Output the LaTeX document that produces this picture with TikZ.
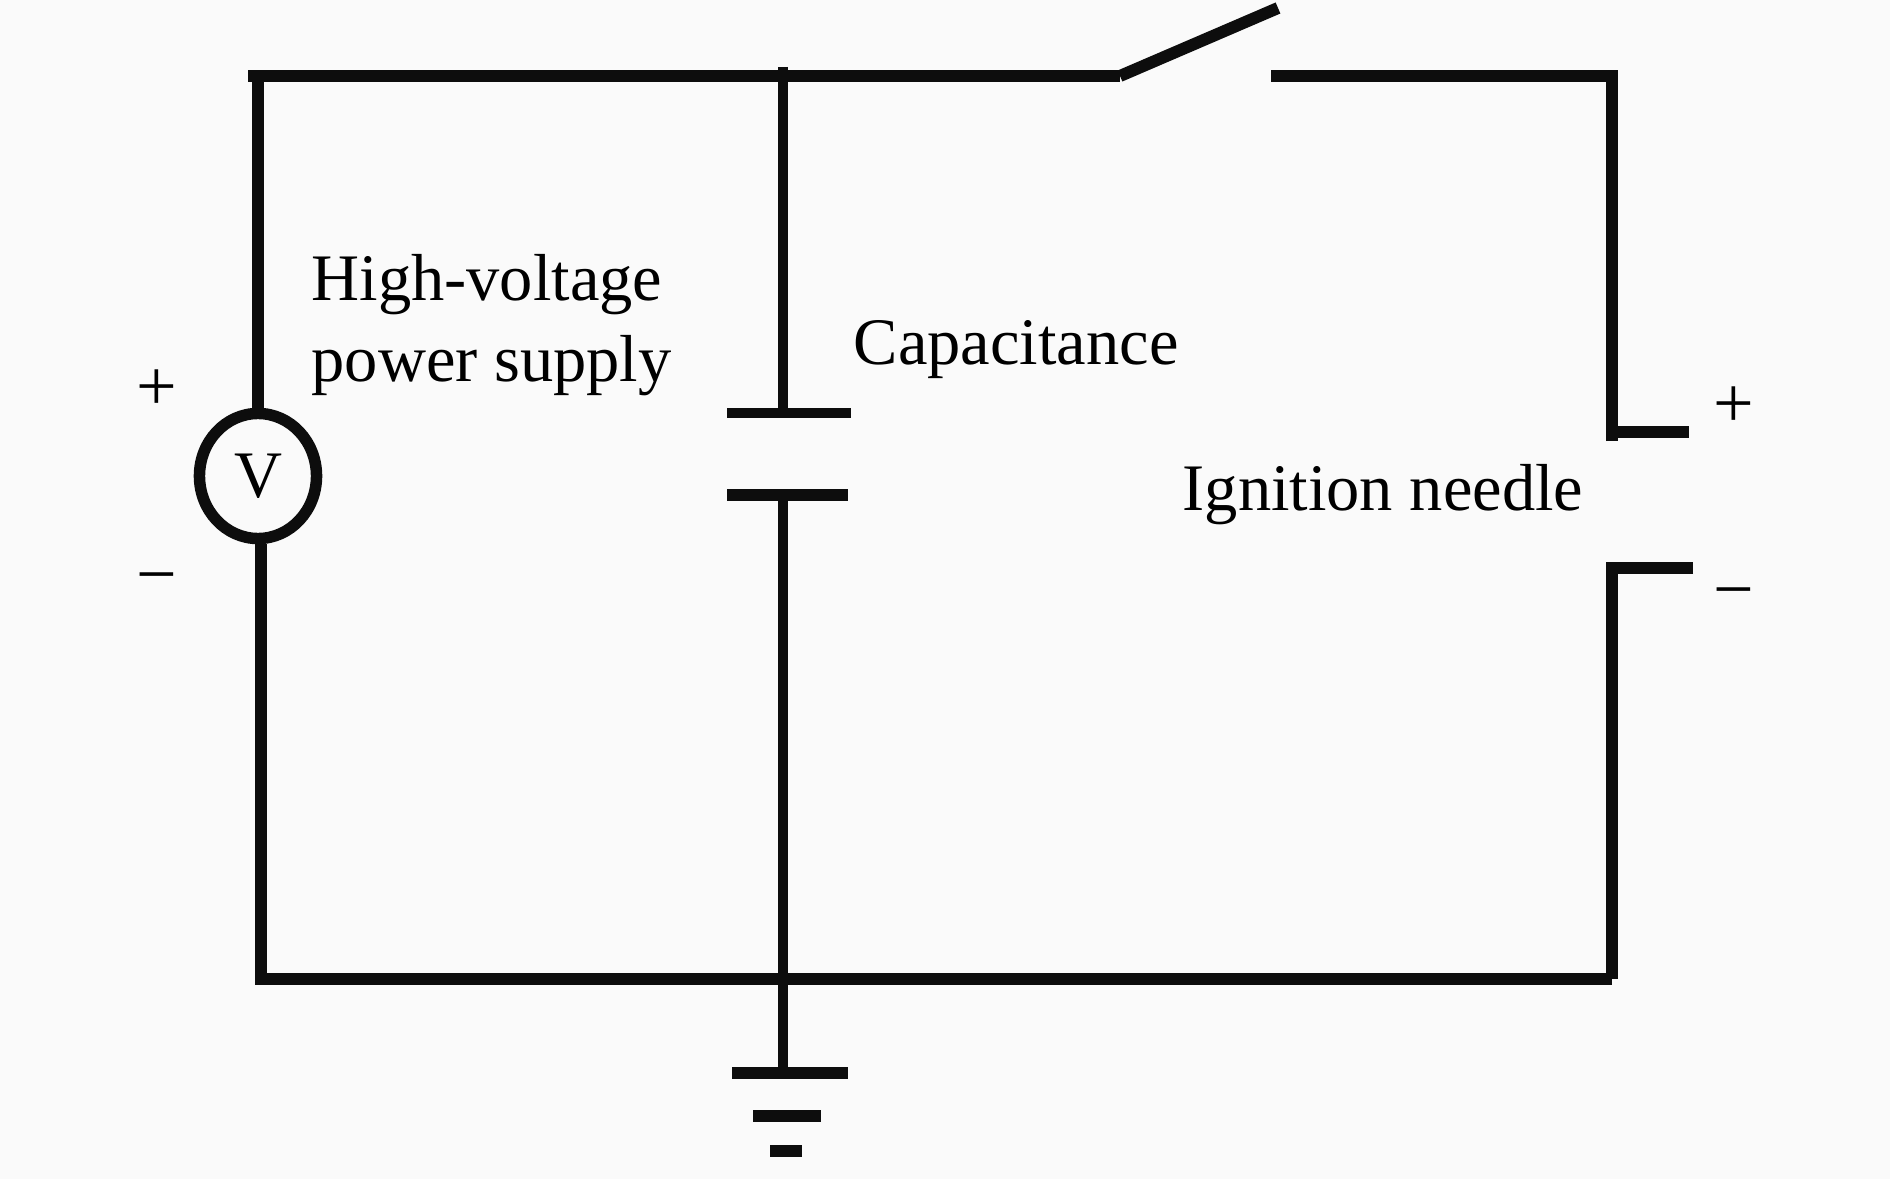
\documentclass[tikz,border=0pt]{standalone}
\usepackage{fontspec}
\setmainfont{Liberation Serif}
\usetikzlibrary{shapes.geometric}
\definecolor{paper}{rgb}{0.98, 0.98, 0.98}
\tikzstyle{wire} = [line width=1.2mm, black!95]
\tikzstyle{thinwire} = [line width=1.05mm, black!95]
\tikzstyle{labelstyle} = [inner sep=0pt, anchor=base west, align=left,
font=\fontsize{18.9}{22.8}\selectfont]
\tikzstyle{signstyle} = [inner sep=0pt, font=\fontsize{20.5}{22.8}\selectfont]
\tikzstyle{sourcestyle} = [ellipse,
minimum width=1.17cm,
minimum height=1.25cm,
inner sep=0pt,
draw=black!95,
line width=1.15mm,
fill=paper,
font=\fontsize{18.9}{22.8}\selectfont]

\begin{document}
\begin{tikzpicture}[x=0.01cm, y=-0.01cm]
\fill [paper, use as bounding box] (0,0) rectangle (1890,1179);

\node (source) [sourcestyle] at (258,476) {V};
\coordinate (topleft) at (248,76);
\coordinate (botleft) at (261,979);
\coordinate (topjoint) at (783,76);
\coordinate (botjoint) at (783,979);
\coordinate (swleft) at (1120,76);
\coordinate (swtip) at (1278,8);
\coordinate (swright) at (1271,76);
\coordinate (topright) at (1612,76);
\coordinate (botright) at (1612,979);
\coordinate (needleup) at (1612,432);
\coordinate (needleupend) at (1689,432);
\coordinate (needledown) at (1612,568);
\coordinate (needledownend) at (1693,568);

% capacitor and ground plates
\coordinate (capa) at (727,413);
\coordinate (capb) at (851,413);
\coordinate (capc) at (727,495);
\coordinate (capd) at (848,495);
\coordinate (captop) at (783,413);
\coordinate (capbot) at (783,495);
\coordinate (gnda) at (732,1073);
\coordinate (gndb) at (848,1073);
\coordinate (gndc) at (753,1116);
\coordinate (gndd) at (821,1116);
\coordinate (gnde) at (770,1151);
\coordinate (gndf) at (802,1151);
\coordinate (gndtop) at (783,1073);

\draw [wire] (source.north) -- (source.north |- topleft);
\draw [wire] (topleft) -- (swleft);
\draw [wire] (swleft) -- (swtip);
\draw [wire] (swright) -- (topright) -- (needleup) ++(0,9) -- (needleup);
\draw [wire] (needleup) -- (needleupend);
\draw [wire] (needledownend) -- (needledown) -- (botright);
\draw [wire] (botleft |- source.south) -- (botleft) -- (botright);

\draw [thinwire] (topjoint) ++(0,-9) -- (captop);
\draw [thinwire] (capbot) -- (botjoint) -- (gndtop);
\draw [thinwire] (capa) -- (capb);
\draw [wire] (capc) -- (capd);
\draw [wire] (gnda) -- (gndb);
\draw [wire] (gndc) -- (gndd);
\draw [wire] (gnde) -- (gndf);

\node (power) [labelstyle] at (311,381) {High-voltage\\power supply};
\node (capacity) [labelstyle] at (853,364) {Capacitance};
\node (needle) [labelstyle] at (1182,511) {Ignition needle};

\node (splus) [signstyle] at (157,390) {+};
\node (sminus) [signstyle] at (157,586) {−};
\node (nplus) [signstyle] at (1734,407) {+};
\node (nminus) [signstyle] at (1734,601) {−};
\end{tikzpicture}
\end{document}
